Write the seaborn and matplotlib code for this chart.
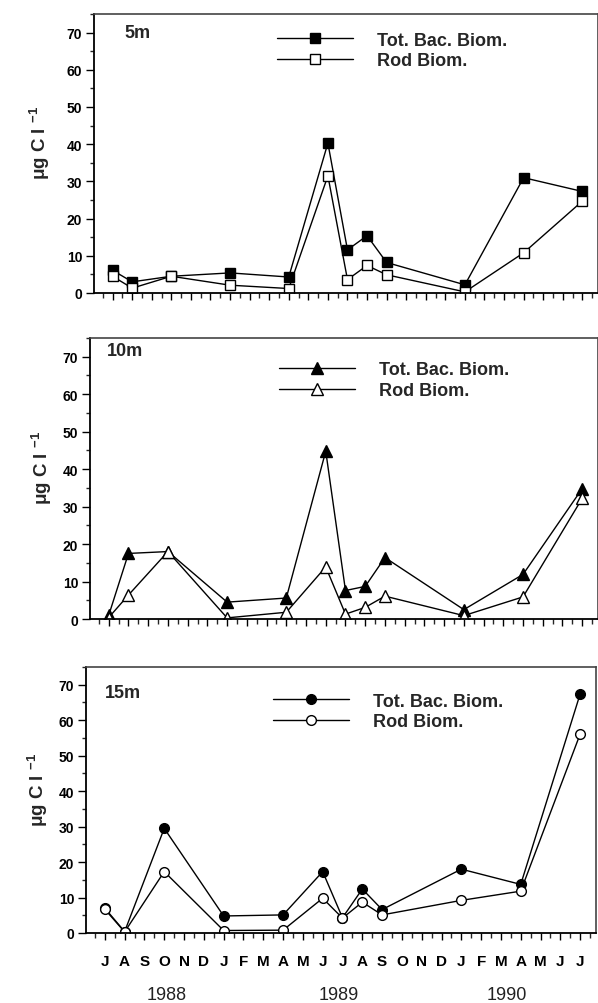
import numpy as np
import pandas as pd
import matplotlib
matplotlib.use("Agg")
import matplotlib.pyplot as plt
from matplotlib.ticker import MultipleLocator, FixedLocator, NullFormatter
import seaborn as sns

# ---- data (months counted from July 1988 = 0) ----
months = [0, 1, 3, 6, 9, 11, 12, 13, 14, 18, 21, 24]

tot_5m = [6.1, 3.0, 4.5, 5.4, 4.3, 40.3, 11.6, 15.4, 8.2, 2.2, 31.0, 27.3]
rod_5m = [4.5, 1.3, 4.5, 2.1, 1.2, 31.5, 3.6, 7.4, 4.9, 0.3, 10.8, 24.7]

tot_10m = [1.0, 17.5, 18.0, 4.5, 5.6, 44.8, 7.6, 8.7, 16.4, 2.5, 11.9, 34.8]
rod_10m = [0.4, 6.4, 18.0, 0.3, 1.8, 13.9, 1.3, 3.1, 6.1, 0.9, 5.9, 32.2]

tot_15m = [7.0, 0.4, 29.5, 4.8, 5.1, 17.3, 4.3, 12.4, 6.6, 18.0, 13.7, 67.4]
rod_15m = [6.7, 0.3, 17.3, 0.7, 0.8, 9.8, 4.2, 8.7, 5.1, 9.2, 11.8, 56.1]

month_labels = ["J", "A", "S", "O", "N", "D", "J", "F", "M", "A", "M", "J",
                "J", "A", "S", "O", "N", "D", "J", "F", "M", "A", "M", "J", "J"]
year_labels = ["1988", "1989", "1990"]
panel_titles = ["5m", "10m", "15m"]
series_names = ["Tot. Bac. Biom.", "Rod Biom."]

sns.set_theme(style="ticks")
plt.rcParams["font.family"] = ["Liberation Sans", "DejaVu Sans"]
plt.rcParams["mathtext.fontset"] = "custom"
plt.rcParams["mathtext.rm"] = "Liberation Sans:bold"
plt.rcParams["mathtext.it"] = "Liberation Sans:bold"
plt.rcParams["mathtext.bf"] = "Liberation Sans:bold"

fig = plt.figure(figsize=(5.98, 10.04), dpi=100)
W, H = 598.0, 1004.0

def ax_rect(left, top, bottom, right):
    return [left / W, 1 - bottom / H, (right - left) / W, (bottom - top) / H]

rects = [ax_rect(94, 15, 294, 598), ax_rect(90, 339, 620, 598), ax_rect(86, 668, 934, 596)]
markers = ["s", "^", "o"]
msizes = [6.8, 9.0, 7.0]
data = [(tot_5m, rod_5m), (tot_10m, rod_10m), (tot_15m, rod_15m)]
title_pos = [(0.06, 0.935), (0.033, 0.954), (0.037, 0.906)]
legend_pos = [(0.363, 0.937), (0.372, 0.917), (0.367, 0.904)]
ylabel_x = [-0.083, -0.071, -0.071]

for i, (rect, (tot, rod)) in enumerate(zip(rects, data)):
    ax = fig.add_axes(rect)
    df = pd.DataFrame({"month": months * 2,
                       "value": tot + rod,
                       "series": [series_names[0]] * len(months) + [series_names[1]] * len(months)})
    for name, fc in zip(series_names, ["black", "white"]):
        sub = df[df["series"] == name]
        sns.lineplot(data=sub, x="month", y="value", ax=ax, color="black", lw=1.0,
                     marker=markers[i], markersize=msizes[i], markerfacecolor=fc,
                     markeredgecolor="black", markeredgewidth=1.0, label=name,
                     estimator=None, sort=False)
    ax.set_xlim(-0.95, 24.8)
    ax.set_ylim(0, 75)
    ax.yaxis.set_major_locator(FixedLocator([0, 10, 20, 30, 40, 50, 60, 70]))
    ax.yaxis.set_minor_locator(MultipleLocator(5))
    ax.xaxis.set_major_locator(MultipleLocator(1))
    ax.xaxis.set_minor_locator(MultipleLocator(0.5))
    ax.tick_params(axis="y", which="major", direction="out", length=5.5, width=1.0,
                   labelsize=10, pad=3, colors="black")
    ax.tick_params(axis="y", which="minor", direction="out", length=3, width=1.0)
    ax.tick_params(axis="x", which="major", direction="out", length=5, width=1.0,
                   labelsize=11, pad=10, colors="black")
    ax.tick_params(axis="x", which="minor", direction="out", length=3.5, width=1.0)
    for lab in ax.get_yticklabels():
        lab.set_fontweight("bold")
    for sp in ["left", "bottom"]:
        ax.spines[sp].set_linewidth(1.3)
        ax.spines[sp].set_color("black")
    ax.spines["top"].set_linewidth(1.2)
    ax.spines["top"].set_color("#444444")
    ax.spines["right"].set_linewidth(1.2)
    ax.spines["right"].set_color("#444444")
    ax.set_xlabel("")
    ax.set_ylabel("μg C l $^{-1}$", fontsize=13.5, fontweight="bold")
    ax.yaxis.set_label_coords(ylabel_x[i], 0.54)
    ax.text(title_pos[i][0], title_pos[i][1], panel_titles[i], transform=ax.transAxes,
            fontsize=13, fontweight="bold", ha="left", va="center")
    if i < 2:
        ax.xaxis.set_major_formatter(NullFormatter())
    else:
        ax.set_xticks(range(len(month_labels)))
        ax.set_xticklabels(month_labels, fontweight="bold")
        for yl, xpos in zip(year_labels, [3.1, 11.8, 20.3]):
            ax.text(xpos, -0.23, yl, transform=ax.get_xaxis_transform(), fontsize=13,
                    ha="center", va="center", color="#222222")
    leg = ax.legend(loc="upper left", bbox_to_anchor=legend_pos[i], frameon=False,
                    fontsize=13, handlelength=4.2, handletextpad=1.35, labelspacing=0.2,
                    borderpad=0, borderaxespad=0)
    for t in leg.get_texts():
        t.set_fontweight("bold")

fig.savefig("out.png", dpi=100)
